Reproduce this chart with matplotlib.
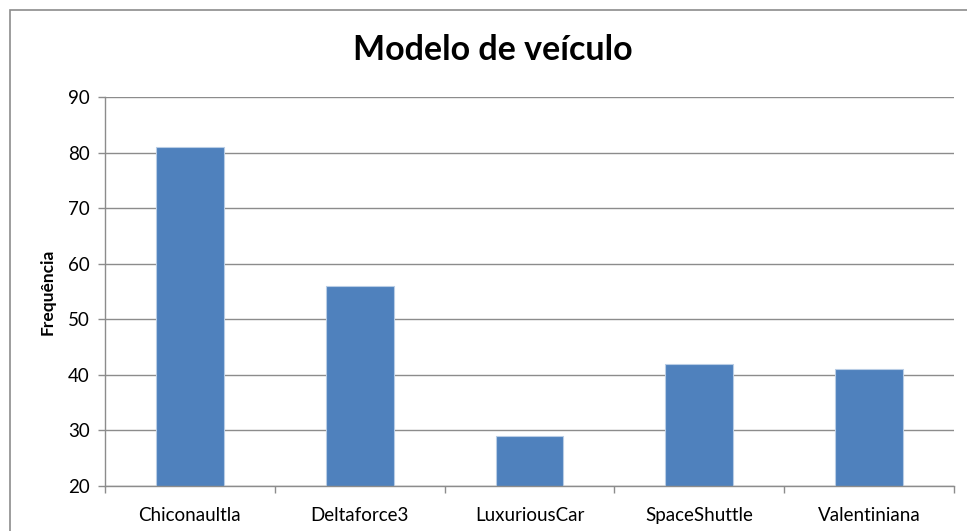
import matplotlib
matplotlib.use("Agg")
import matplotlib.pyplot as plt
from matplotlib.patches import Rectangle

categories = ["Chiconaultla", "Deltaforce3", "LuxuriousCar", "SpaceShuttle", "Valentiniana"]
values = [81, 56, 29, 42, 41]
y_ticks = [20, 30, 40, 50, 60, 70, 80, 90]
title = "Modelo de veículo"
ylabel = "Frequência"

plt.rcParams['font.family'] = ['Lato', 'DejaVu Sans']

W, H = 967, 531
fig = plt.figure(figsize=(W / 100, H / 100), dpi=100)
fig.patch.set_facecolor("white")

# outer chart border (extends beyond right/bottom edge)
fig.add_artist(Rectangle((10 / W, -0.05), 1.2, 1 - 10 / H + 0.05, transform=fig.transFigure,
                         fill=False, edgecolor="#8c8c8c", linewidth=1.2))

ax = fig.add_axes([105 / W, 1 - 486 / H, (954 - 105) / W, (486 - 97) / H])
x = list(range(len(categories)))
ax.bar(x, values, width=0.4, color="#4F81BD", edgecolor="#b9cde5", linewidth=0.8, zorder=3)
ax.set_ylim(20, 90)
ax.set_xlim(-0.5, len(categories) - 0.5)
ax.set_yticks(y_ticks)
ax.set_yticklabels([str(v) for v in y_ticks], fontsize=13.5, color="#000000")
ax.grid(axis="y", color="#8c8c8c", linewidth=1.0, zorder=0)
ax.set_xticks(x)
ax.set_xticklabels(categories, fontsize=13.5)
ax.tick_params(axis="x", length=0, pad=15)
ax.tick_params(axis="y", length=5, color="#8c8c8c", width=1.0, pad=6)
# minor ticks at category boundaries
ax.set_xticks([i - 0.5 for i in range(len(categories) + 1)], minor=True)
ax.tick_params(axis="x", which="minor", length=5, color="#8c8c8c", width=1.0)
for s in ["top", "right"]:
    ax.spines[s].set_visible(False)
for s in ["left", "bottom"]:
    ax.spines[s].set_color("#8c8c8c")
    ax.spines[s].set_linewidth(1.0)
    ax.spines[s].set_zorder(4)

ax.set_ylabel(ylabel, fontsize=12.5, fontweight="bold", labelpad=9)
fig.text(493 / W, 1 - 50 / H, title, ha="center", va="center", fontsize=24.5, fontweight="bold")

fig.savefig("out.png", dpi=100)
